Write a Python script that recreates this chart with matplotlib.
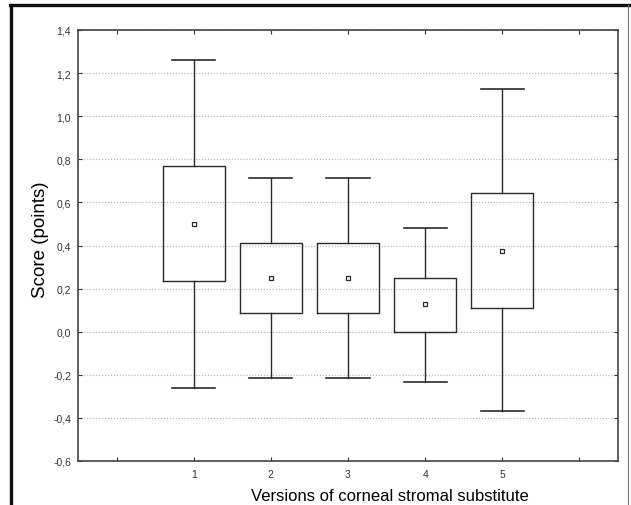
"""
Box plot of scores for versions of corneal stromal substitute
"""

import matplotlib

matplotlib.use("Agg")
import matplotlib.pyplot as plt
from matplotlib.lines import Line2D

# data
versions = [1, 2, 3, 4, 5]
means = [0.499, 0.248, 0.248, 0.128, 0.373]
box_low = [0.235, 0.087, 0.087, 0.000, 0.110]
box_high = [0.770, 0.413, 0.413, 0.249, 0.643]
whisk_low = [-0.259, -0.214, -0.214, -0.232, -0.370]
whisk_high = [1.259, 0.715, 0.715, 0.480, 1.124]
y_ticks = [-0.6, -0.4, -0.2, 0.0, 0.2, 0.4, 0.6, 0.8, 1.0, 1.2, 1.4]
x_ticks = [0, 1, 2, 3, 4, 5, 6]
x_labels = ["", "1", "2", "3", "4", "5", ""]

plt.rcParams["font.family"] = ["Liberation Sans", "DejaVu Sans"]

fig = plt.figure(figsize=(6.31, 5.06), dpi=100)
ax = fig.add_axes([78 / 631, 1 - 462 / 506, 540 / 631, 431 / 506])

stats = []
for i in range(len(versions)):
    stats.append(
        {
            "med": means[i],
            "mean": means[i],
            "q1": box_low[i],
            "q3": box_high[i],
            "whislo": whisk_low[i],
            "whishi": whisk_high[i],
            "fliers": [],
        }
    )

edge = "#2a2a2a"
ax.bxp(
    stats,
    positions=versions,
    widths=0.8,
    showmeans=True,
    showfliers=False,
    boxprops=dict(color=edge, linewidth=1.0),
    whiskerprops=dict(color=edge, linewidth=1.0),
    capprops=dict(color=edge, linewidth=1.2),
    capwidths=0.56,
    medianprops=dict(linewidth=0),
    meanprops=dict(
        marker="s",
        markersize=3.2,
        markerfacecolor="white",
        markeredgecolor=edge,
        markeredgewidth=0.9,
    ),
)

# axis limits and ticks
ax.set_xlim(-0.5, 6.5)
ax.set_ylim(-0.6, 1.4)
ax.set_xticks(x_ticks)
ax.set_xticklabels(x_labels)
ax.set_yticks(y_ticks)
ax.yaxis.set_major_formatter(
    plt.FuncFormatter(lambda v, loc: "{:.1f}".format(v).replace(".", ","))
)
ax.tick_params(
    axis="both",
    which="major",
    direction="in",
    length=3,
    width=0.8,
    top=True,
    right=True,
    labelsize=7.5,
    colors="#333333",
    pad=5,
)
ax.tick_params(axis="x", pad=6)

# dotted grid on y only
ax.yaxis.grid(True, linestyle=":", color="#b0b0b0", linewidth=0.8)
ax.set_axisbelow(True)

for side in ax.spines.values():
    side.set_color("#444444")
    side.set_linewidth(1.2)

# axis labels, placed as in the original
ax.set_xlabel("Versions of corneal stromal substitute", fontsize=12)
ax.set_ylabel("Score (points)", fontsize=13.5)
ax.xaxis.set_label_coords(0.578, -0.062)
ax.yaxis.set_label_coords(-0.054, 0.515)

# outer frame of the original screenshot
fig.add_artist(
    Line2D([11 / 631, 11 / 631], [0, 1 - 6 / 506], color="#111111", linewidth=2.4)
)
fig.add_artist(
    Line2D([10 / 631, 1], [1 - 6 / 506, 1 - 6 / 506], color="#111111", linewidth=2.4)
)
fig.add_artist(
    Line2D([628 / 631, 628 / 631], [0, 1 - 6 / 506], color="#777777", linewidth=0.8)
)

plt.savefig("out.png", dpi=100)
